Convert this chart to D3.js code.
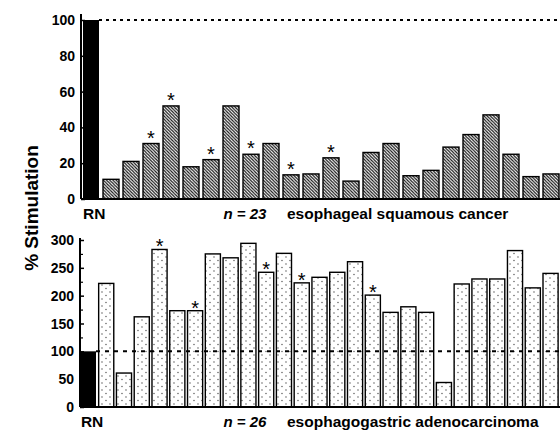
<!DOCTYPE html>
<html><head><meta charset="utf-8">
<script src="https://cdn.jsdelivr.net/npm/d3@7"></script>
<style>
body{margin:0;background:#fff}
svg text{font-family:"Liberation Sans",Arial,Helvetica,sans-serif;font-weight:bold;fill:#000}
</style>
</head><body><svg id="c" width="560" height="434"></svg>
<script>
// ---- data ----
const squamousCategories = ["RN","S1","S2","S3","S4","S5","S6","S7","S8","S9","S10","S11","S12","S13","S14","S15","S16","S17","S18","S19","S20","S21","S22","S23"];
const squamousValues = [100, 11, 21, 31, 52, 18, 22, 52, 25, 31, 13.5, 14, 23, 10, 26, 31, 13, 16, 29, 36, 47, 25, 12.5, 14];
const squamousStarred = ["S3","S4","S6","S8","S10","S12"];
const squamousTicks = [0, 20, 40, 60, 80, 100];

const adenoCategories = ["RN","A1","A2","A3","A4","A5","A6","A7","A8","A9","A10","A11","A12","A13","A14","A15","A16","A17","A18","A19","A20","A21","A22","A23","A24","A25","A26"];
const adenoValues = [100, 222, 61, 162, 283, 173, 173, 275, 268, 294, 242, 276, 223, 233, 242, 261, 201, 170, 180, 170, 44, 221, 230, 230, 281, 214, 240];
const adenoStarred = ["A4","A6","A10","A12","A16"];
const adenoTicks = [0, 50, 100, 150, 200, 250, 300];
const adenoMinorTicks = [25, 75, 125, 175, 225, 275];

const referenceValue = 100;
const panelTexts = [
  {n: "n = 23", label: "esophageal squamous cancer"},
  {n: "n = 26", label: "esophagogastric adenocarcinoma"}
];
const yTitle = "% Stimulation";

// ---- drawing ----
const svg = d3.select("#c");
const defs = svg.append("defs");

const hatch = defs.append("pattern").attr("id","hatch")
  .attr("patternUnits","userSpaceOnUse").attr("width",3.2).attr("height",3.2);
hatch.append("rect").attr("width",3.2).attr("height",3.2).attr("fill","#fff");
hatch.append("path").attr("d","M-1,-1 L4.2,4.2 M-1,2.2 L1,4.2 M2.2,-1 L4.2,1")
  .attr("stroke","#111").attr("stroke-width",1.15);

const dots = defs.append("pattern").attr("id","dots")
  .attr("patternUnits","userSpaceOnUse").attr("width",8).attr("height",7);
dots.append("rect").attr("width",8).attr("height",7).attr("fill","#fff");
dots.append("circle").attr("cx",2).attr("cy",1.5).attr("r",0.65).attr("fill","#444");
dots.append("circle").attr("cx",6).attr("cy",5).attr("r",0.65).attr("fill","#444");

function panel(opts){
  const {cats, vals, starred, ticks, minor, yRange, xRange, pad, fill, top, labelY, txt, lineDash, lineOnTop, starShift} = opts;
  const x = d3.scaleBand().domain(cats).range(xRange).paddingInner(pad[0]).paddingOuter(pad[1]);
  const y = d3.scaleLinear().domain([0, ticks[ticks.length-1]]).range(yRange);
  const g = svg.append("g");

  g.selectAll("rect.bar").data(cats.map((c,i)=>({c, v: vals[i]})))
    .join("rect").attr("class","bar")
    .attr("x", d=>x(d.c)).attr("width", x.bandwidth())
    .attr("y", d=>y(d.v)).attr("height", d=>y(0)-y(d.v))
    .attr("fill", d=> d.c==="RN" ? "#000" : fill)
    .attr("stroke","#000").attr("stroke-width", d=> d.c==="RN" ? 0 : 1.4);

  const ref = g.append("line")
    .attr("x1", x("RN")+x.bandwidth()).attr("x2", 560)
    .attr("y1", y(referenceValue)).attr("y2", y(referenceValue))
    .attr("stroke","#000").attr("stroke-width",2).attr("stroke-dasharray",lineDash);
  if(!lineOnTop) ref.lower();

  g.selectAll("text.star").data(starred).join("text").attr("class","star")
    .attr("x", d=>x(d)+x.bandwidth()/2)
    .attr("y", d=>y(vals[cats.indexOf(d)]) + starShift)
    .attr("text-anchor","middle").style("font-weight","normal").style("font-size","20px")
    .text("*");

  // y axis
  const ax = g.append("g").attr("transform",`translate(${xRange[0]},0)`)
    .call(d3.axisRight(y).tickValues(ticks).tickSize(4).tickFormat(""));
  ax.select(".domain").attr("d", `M0,${y(0)}V${top}`).attr("stroke-width",2);
  ax.selectAll(".tick line").attr("stroke-width",1.5);
  if(minor){
    const ax2 = g.append("g").attr("transform",`translate(${xRange[0]},0)`)
      .call(d3.axisRight(y).tickValues(minor).tickSize(3).tickFormat(""));
    ax2.select(".domain").remove();
    ax2.selectAll(".tick line").attr("stroke-width",1.2);
  }
  g.selectAll("text.tl").data(ticks).join("text").attr("class","tl")
    .attr("x", xRange[0]-6).attr("y", d=>y(d)).attr("dy","0.36em")
    .attr("text-anchor","end").style("font-size","14px").text(d=>d);

  // baseline
  g.append("line").attr("x1",xRange[0]).attr("x2",560).attr("y1",y(0)).attr("y2",y(0))
    .attr("stroke","#000").attr("stroke-width",2);

  // labels
  g.append("text").attr("x", x("RN")).attr("y", labelY).style("font-size","15.5px").text("RN");
  g.append("text").attr("x", 245).attr("y", labelY).attr("text-anchor","middle")
    .style("font-size","15px").style("font-style","italic").text(txt.n);
  g.append("text").attr("x", 287).attr("y", labelY).style("font-size","15.5px").text(txt.label);
}

panel({cats: squamousCategories, vals: squamousValues, starred: squamousStarred,
  ticks: squamousTicks, minor: null, yRange: [199, 20], xRange: [81, 561], pad: [0.2, 0.1],
  fill: "url(#hatch)", top: 14, labelY: 219, txt: panelTexts[0], lineDash: "3,4", lineOnTop: false, starShift: 1});

panel({cats: adenoCategories, vals: adenoValues, starred: adenoStarred,
  ticks: adenoTicks, minor: adenoMinorTicks, yRange: [407, 240], xRange: [80, 559], pad: [0.15, 0.05],
  fill: "url(#dots)", top: 238, labelY: 427, txt: panelTexts[1], lineDash: "4,5", lineOnTop: true, starShift: 4});

svg.append("text").attr("transform","translate(38,208) rotate(-90)")
  .attr("text-anchor","middle").style("font-size","19px").text(yTitle);
</script>
</body></html>
